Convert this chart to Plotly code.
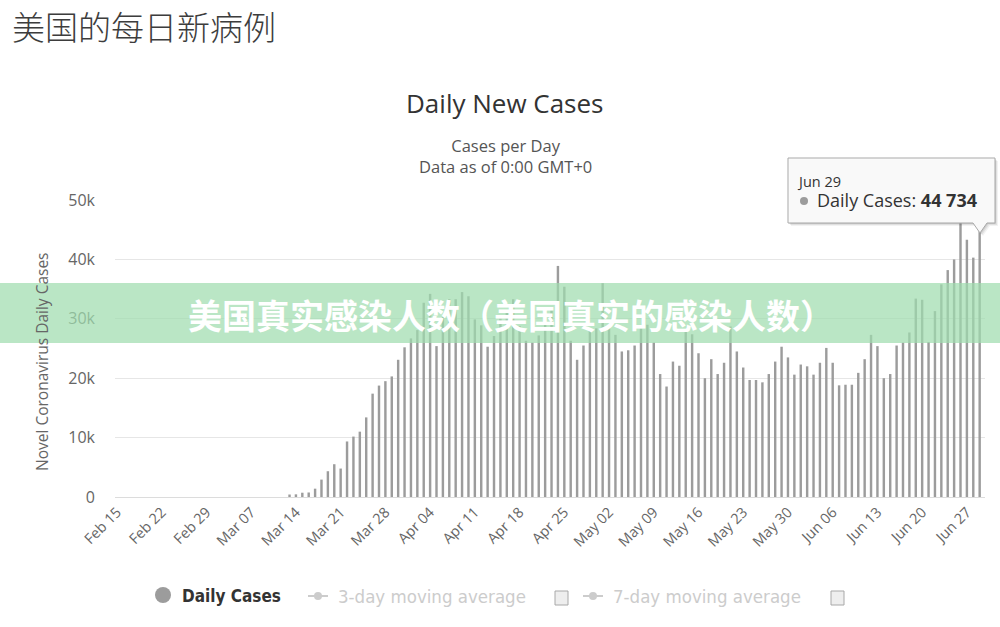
import pandas as pd
import plotly.graph_objects as go

# ---------------- data ----------------
DATES = pd.date_range("2020-02-15", "2020-06-29", freq="D")

FEB_CASES = [0, 0, 0, 0, 0, 0, 0, 0, 0, 0, 0, 0, 0, 0, 0]                        # Feb 15 - Feb 29
MAR_EARLY = [0, 0, 0, 0, 0, 0, 0, 0, 0, 0, 0, 0]                                  # Mar 1 - Mar 12 (≈0 in picture)
MAR_LATE = [420, 450, 720, 760, 1400, 2930, 4340, 5520, 4790, 9350, 10170, 11000,
            13400, 17400, 18760, 19500, 20300, 23100, 25200]                       # Mar 13 - Mar 31
APR_CASES = [26700, 28100, 32700, 34200, 25400, 30300, 33300, 33300, 34500, 33800,
             29900, 28900, 25300, 27100, 30100, 31200, 33300, 28800, 26300, 26000,
             27200, 30000, 31900, 38900, 35400, 26300, 23100, 25500, 28300, 28400]  # Apr 1 - Apr 30
MAY_CASES = [36000, 28700, 27300, 24500, 24700, 25500, 28400, 29000, 26000, 20700,
             18600, 22800, 22100, 27900, 27400, 24200, 20000, 23200, 20700, 22600,
             28700, 24500, 21800, 19700, 19700, 19300, 20700, 22800, 25300, 23500,
             20600]                                                                 # May 1 - May 31
JUN_CASES = [22300, 22000, 20600, 22600, 25100, 22600, 18800, 18900, 18900, 20900,
             23200, 27300, 25400, 20000, 20700, 25500, 26000, 27700, 33400, 33200,
             26100, 31300, 35800, 38200, 40000, 46100, 43300, 40300, 44734]         # Jun 1 - Jun 29

DAILY_CASES = FEB_CASES + MAR_EARLY + MAR_LATE + APR_CASES + MAY_CASES + JUN_CASES

TICK_DATES = ["2020-02-15", "2020-02-22", "2020-02-29", "2020-03-07", "2020-03-14",
              "2020-03-21", "2020-03-28", "2020-04-04", "2020-04-11", "2020-04-18",
              "2020-04-25", "2020-05-02", "2020-05-09", "2020-05-16", "2020-05-23",
              "2020-05-30", "2020-06-06", "2020-06-13", "2020-06-20", "2020-06-27"]
TICK_LABELS = ["Feb 15", "Feb 22", "Feb 29", "Mar 07", "Mar 14", "Mar 21", "Mar 28",
               "Apr 04", "Apr 11", "Apr 18", "Apr 25", "May 02", "May 09", "May 16",
               "May 23", "May 30", "Jun 06", "Jun 13", "Jun 20", "Jun 27"]
Y_TICKS = [0, 10000, 20000, 30000, 40000, 50000]
Y_TICK_LABELS = ["0", "10k", "20k", "30k", "40k", "50k"]

TOOLTIP_DATE = "Jun 29"
TOOLTIP_VALUE = "44 734"

# ---------------- layout helpers (pixel -> paper) ----------------
W, H = 1000, 627
ML, MR, MT, MB = 115, 15, 200, 130
PW, PH = W - ML - MR, H - MT - MB


def xp(px):
    return (px - ML) / PW


def yp(py):
    return (H - MB - py) / PH


FONT = "Open Sans, Liberation Sans, sans-serif"
NARROW = "Liberation Sans Narrow, DejaVu Sans Condensed, Roboto Condensed, sans-serif"
CJK = "Noto Sans CJK SC, sans-serif"

fig = go.Figure()
fig.add_trace(go.Bar(
    x=DATES, y=DAILY_CASES, name="Daily Cases",
    marker=dict(color="#9c9c9c", line=dict(width=0)),
    width=0.38 * 86400000, showlegend=False,
))

shapes = []
annotations = []

# Title / subtitle
annotations.append(dict(text="Daily New Cases", x=xp(505), y=yp(103), xref="paper", yref="paper",
                        showarrow=False, xanchor="center", yanchor="middle",
                        font=dict(family=FONT, size=26, color="#333333")))
annotations.append(dict(text="Cases per Day<br>Data as of 0:00 GMT+0", x=xp(505), y=yp(156),
                        xref="paper", yref="paper", showarrow=False, xanchor="center", yanchor="middle",
                        align="center", font=dict(family=FONT, size=16.5, color="#555555")))
# y-axis title
annotations.append(dict(text="Novel Coronavirus Daily Cases", x=xp(42), y=yp(362), xref="paper", yref="paper",
                        showarrow=False, xanchor="center", yanchor="middle", textangle=-90,
                        font=dict(family=FONT, size=15.5, color="#666666")))
# page heading
annotations.append(dict(text="美国的每日新病例", x=xp(10), y=yp(0), xref="paper", yref="paper",
                        showarrow=False, xanchor="left", yanchor="top",
                        font=dict(family=CJK, size=33, color="#3d3d3d", weight=300)))

# Legend
shapes.append(dict(type="circle", xref="paper", yref="paper", x0=xp(155), x1=xp(171),
                   y0=yp(603), y1=yp(587), fillcolor="#9c9c9c", line=dict(width=0)))
annotations.append(dict(text="<b>Daily Cases</b>", x=xp(180), y=yp(596), xref="paper", yref="paper",
                        showarrow=False, xanchor="left", yanchor="middle",
                        font=dict(family=NARROW, size=17, color="#333333")))
for lx, tx, label, cbx in [(308, 336, "3-day moving average", 555), (583, 611, "7-day moving average", 831)]:
    shapes.append(dict(type="line", xref="paper", yref="paper", x0=xp(lx), x1=xp(lx + 20),
                       y0=yp(596), y1=yp(596), line=dict(color="#cccccc", width=2)))
    shapes.append(dict(type="circle", xref="paper", yref="paper", x0=xp(lx + 6), x1=xp(lx + 14),
                       y0=yp(600), y1=yp(592), fillcolor="#cccccc", line=dict(width=0)))
    annotations.append(dict(text=label, x=xp(tx), y=yp(596), xref="paper", yref="paper",
                            showarrow=False, xanchor="left", yanchor="middle",
                            font=dict(family=NARROW, size=18.5, color="#cccccc")))
    shapes.append(dict(type="rect", xref="paper", yref="paper", x0=xp(cbx), x1=xp(cbx + 13),
                       y0=yp(605), y1=yp(591), fillcolor="#eeeeee", line=dict(color="#a8a8a8", width=1)))

# Tooltip box with pointer
bx0, bx1, by0, by1 = 788, 995, 158, 223
tipx, tipy = 980, 233


def tooltip_path(dx=0, dy=0):
    pts = [(bx0, by0), (bx1, by0), (bx1, by1), (tipx + 7, by1), (tipx, tipy), (tipx - 7, by1), (bx0, by1)]
    return "M " + " L ".join(f"{xp(px + dx):.5f},{yp(py + dy):.5f}" for px, py in pts) + " Z"


for d, a in [(3, 0.05), (2, 0.07), (1, 0.09)]:
    shapes.append(dict(type="path", xref="paper", yref="paper", path=tooltip_path(d, d),
                       fillcolor=f"rgba(0,0,0,{a})", line=dict(width=0)))
shapes.append(dict(type="path", xref="paper", yref="paper", path=tooltip_path(),
                   fillcolor="rgba(250,250,250,0.97)", line=dict(color="#a9a9a9", width=1)))
annotations.append(dict(text=TOOLTIP_DATE, x=xp(795), y=yp(181), xref="paper", yref="paper",
                        showarrow=False, xanchor="left", yanchor="middle",
                        font=dict(family=FONT, size=14.5, color="#333333")))
shapes.append(dict(type="circle", xref="paper", yref="paper", x0=xp(800), x1=xp(808),
                   y0=yp(205), y1=yp(197), fillcolor="#9c9c9c", line=dict(width=0)))
annotations.append(dict(text=f"Daily Cases:&nbsp;<b>{TOOLTIP_VALUE}</b>", x=xp(815), y=yp(200),
                        xref="paper", yref="paper", showarrow=False, xanchor="left", yanchor="middle",
                        font=dict(family=FONT, size=18, color="#333333")))

# Green overlay banner
shapes.append(dict(type="rect", xref="paper", yref="paper", x0=xp(0), x1=xp(1000),
                   y0=yp(343), y1=yp(283), fillcolor="rgba(160,220,175,0.72)",
                   line=dict(width=0), layer="above"))
annotations.append(dict(text="<b>美国真实感染人数（美国真实的感染人数）</b>", x=xp(511), y=yp(314),
                        xref="paper", yref="paper", showarrow=False, xanchor="center", yanchor="middle",
                        font=dict(family=CJK, size=34, color="#ffffff")))

fig.update_layout(
    width=W, height=H, autosize=False,
    margin=dict(l=ML, r=MR, t=MT, b=MB, pad=0),
    paper_bgcolor="#ffffff", plot_bgcolor="#ffffff",
    shapes=shapes, annotations=annotations,
    showlegend=False,
    xaxis=dict(type="date", range=["2020-02-14 16:30", "2020-06-29 20:00"],
               tickvals=TICK_DATES, ticktext=TICK_LABELS, tickangle=-45,
               tickfont=dict(family=FONT, size=14.5, color="#666666"),
               showgrid=False, zeroline=False, showline=True, linecolor="#dcdcdc", linewidth=1,
               ticks=""),
    yaxis=dict(range=[0, 50000], tickvals=Y_TICKS, ticktext=Y_TICK_LABELS,
               tickfont=dict(family=FONT, size=16, color="#666666"),
               gridcolor="#e6e6e6", gridwidth=1, zeroline=False, showline=False,
               ticks="", ticklabelstandoff=19),
)

fig.write_html("out.html")
